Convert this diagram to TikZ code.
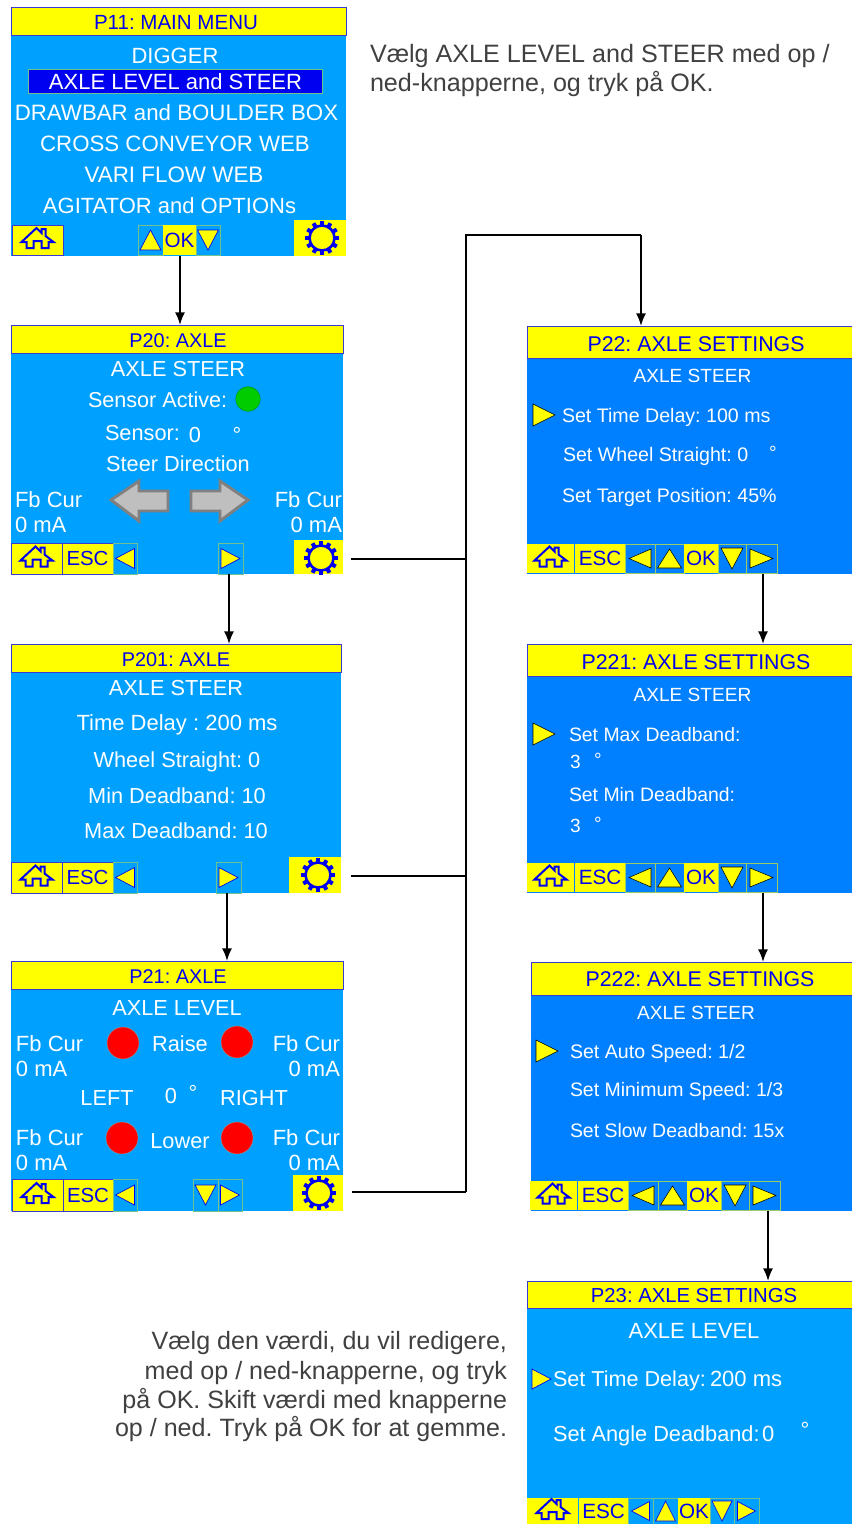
\documentclass[tikz,border=0pt]{standalone}
\usepackage{fontspec}
\setmainfont{Liberation Sans}
\usetikzlibrary{arrows.meta}
\frenchspacing
\newcounter{lbl}
\definecolor{pnl}{HTML}{00A0FF}
\definecolor{pnlb}{HTML}{0080FF}
\definecolor{ylw}{HTML}{FFFF00}
\definecolor{ink}{HTML}{0000F0}
\definecolor{frm}{HTML}{3A3AD0}
\definecolor{grn}{HTML}{70C090}
\definecolor{txtg}{HTML}{404040}
\tikzset{
  fs/.style={font=\fontsize{#1}{#1}\selectfont},
  rawbox/.style={rectangle,inner sep=0pt,outer sep=0pt},
  panel/.style={fill=pnl},
  panelb/.style={fill=pnlb},
  titlebar/.style={fill=ylw,draw=frm,line width=.6pt},
  yb/.style={fill=ylw,draw=frm,line width=.6pt},
  yp/.style={fill=ylw},
  gearb/.style={fill=ylw},
  tbox/.style={fill=pnl,draw=grn,line width=.5pt},
  tboxb/.style={fill=pnlb,draw=ylw!60!pnlb,line width=.35pt},
  tri/.style={fill=ylw,draw=ink,line width=.5pt},
  trib/.style={fill=ylw},
  homeic/.style={fill=ylw,draw=ink,line width=1.5pt,line join=miter},
  gearc/.style={fill=ylw,draw=ink,line width=1.9pt},
  gteeth/.style={draw=ink,line width=3pt},
  conn/.style={draw=black,line width=1.3pt,-{Latex[length=9.5pt,width=7.5pt]}},
  bus/.style={draw=black,line width=1.3pt},
  grayarrow/.style={fill=black!25,draw=black!50,line width=2.2pt,line join=miter},
  led/.style={circle,inner sep=0pt,outer sep=0pt},
  tl/.style={inner sep=0pt,outer sep=0pt,anchor=base},
  wl/.style={text=white},
  bl/.style={text=ink},
  gl/.style={text=txtg},
}
% name x1 y1 x2 y2 style
\newcommand\bx[6]{\node[rawbox,minimum width={(#4-#2)*0.75pt},minimum height={(#5-#3)*0.75pt},#6] (#1) at ({(#2+#4)/2},{(#3+#5)/2}) {};}
% anchor x y size style text
\newcommand\tx[6]{\stepcounter{lbl}\node[tl,anchor=#1,fs=#4,#5] (lbl\arabic{lbl}) at (#2,#3) {#6};}
\newcommand\homeic[2]{\draw[homeic,shift={(#1,#2)}] (-16,2)--(-1,-12)--(4,-7)--(4,-11)--(8,-11)--(8,-4)--(16,2)--(11,2)--(11,8)--(4,8)--(4,1)--(-4,1)--(-4,8)--(-11,8)--(-11,2)--cycle;}
% name x1 y1 x2 y2
\newcommand\homeb[5]{\bx{#1}{#2}{#3}{#4}{#5}{yb}\homeic{{(#2+#4)/2}}{{(#3+#5)/2}}}
\newcommand\homep[5]{\bx{#1}{#2}{#3}{#4}{#5}{yp}\homeic{{(#2+#4)/2}}{{(#3+#5)/2}}}
\newcommand\gearbtn[7]{\bx{#1}{#2}{#3}{#4}{#5}{gearb}
  \begin{scope}[shift={(#6,#7)}]
   \foreach \a in {0,30,...,330} {\draw[gteeth] (\a:11.5) -- (\a:17);}
   \draw[gearc] (0,0) circle[radius=12.5];
  \end{scope}}
% name x1 y1 x2 y2 rot a b
\newcommand\tribtn[8]{\bx{#1}{#2}{#3}{#4}{#5}{tbox}
  \draw[tri,shift={({(#2+#4)/2},{(#3+#5)/2})},rotate=#6] (-#7,-#8)--(#7,0)--(-#7,#8)--cycle;}
\newcommand\tribtnb[8]{\bx{#1}{#2}{#3}{#4}{#5}{tboxb}
  \draw[trib,shift={({(#2+#4)/2},{(#3+#5)/2})},rotate=#6] (-#7,-#8)--(#7,0)--(-#7,#8)--cycle;}
\newcommand\labelb[6]{\bx{#1}{#2}{#3}{#4}{#5}{yb}
  \stepcounter{lbl}\node[rawbox,fs=15.3,text=ink] (lbl\arabic{lbl}) at ({(#2+#4)/2},{(#3+#5)/2}) {#6};}
\newcommand\labelp[6]{\bx{#1}{#2}{#3}{#4}{#5}{yp}
  \stepcounter{lbl}\node[rawbox,fs=15.5,text=ink] (lbl\arabic{lbl}) at ({(#2+#4)/2},{(#3+#5)/2}) {#6};}
\newcommand\dgr[3]{\tx{base}{#1}{#2}{#3}{wl}{°}}
\begin{document}
\begin{tikzpicture}[x=.75pt,y=-.75pt]
\useasboundingbox (0,0) rectangle (852,1524);
% ---------- P11
\bx{s11}{11}{7}{346}{256}{panel}
\bx{t11}{11}{7}{346}{35}{titlebar}
\tx{base}{176}{29}{15.4}{bl}{P11: MAIN MENU}
\tx{base}{175}{63}{16.5}{wl}{DIGGER}
\bx{hl11}{28}{69}{322}{93}{fill=ink,draw=grn,line width=.6pt}
\tx{base}{175.5}{89}{16.5}{wl}{AXLE LEVEL and STEER}
\tx{base}{176.5}{120}{16.7}{wl}{DRAWBAR and BOULDER BOX}
\tx{base}{175}{151}{16.7}{wl}{CROSS CONVEYOR WEB}
\tx{base}{174}{182}{16.8}{wl}{VARI FLOW WEB}
\tx{base}{169.5}{213}{16.5}{wl}{AGITATOR and OPTIONs}
\homeb{h11}{12}{225}{63}{255}
\tribtn{u11}{138}{225}{163}{255}{90}{10}{10.5}
\labelp{ok11}{163}{225}{196}{255}{OK}
\tribtn{d11}{196}{225}{220}{255}{-90}{10}{10.5}
\gearbtn{g11}{294}{220}{346}{256}{322}{238}
% ---------- P20
\bx{s20}{11}{325}{343}{574}{panel}
\bx{t20}{11}{325}{343}{353}{titlebar}
\tx{base}{178}{347}{14.9}{bl}{P20: AXLE}
\tx{base}{178}{376}{16.3}{wl}{AXLE STEER}
\tx{base west}{88}{407}{16.2}{wl}{Sensor Active:}
\node[led,fill=green!80!black,draw=green!55!black,line width=.3pt,minimum size=18.5pt] (led20) at (248,399) {};
\tx{base west}{105}{440}{16.3}{wl}{Sensor:}
\tx{base}{195}{442}{16.3}{wl}{0}
\dgr{237}{442}{16.3}
\tx{base}{178}{471}{16.3}{wl}{Steer Direction}
\tx{base west}{15}{507}{16.5}{wl}{Fb Cur}
\tx{base west}{15}{532}{16.5}{wl}{0 mA}
\tx{base east}{342}{507}{16.5}{wl}{Fb Cur}
\tx{base east}{342}{532}{16.5}{wl}{0 mA}
\draw[grayarrow] (111,500)--(139,481)--(139,491)--(168,491)--(168,511)--(139,511)--(139,521)--cycle;
\draw[grayarrow] (248,500)--(220,481)--(220,491)--(191,491)--(191,511)--(220,511)--(220,521)--cycle;
\homeb{h20}{11}{543}{62}{574}
\labelb{e20}{62}{543}{113}{574}{ESC}
\tribtn{l20}{113}{543}{137}{574}{180}{9.5}{10}
\tribtn{r20}{218}{543}{243}{574}{0}{9.5}{10}
\gearbtn{g20}{294}{540}{343}{574}{321}{558}
% ---------- P201
\bx{s201}{11}{644}{341}{893}{panel}
\bx{t201}{11}{644}{341}{672}{titlebar}
\tx{base}{176}{666}{14.9}{bl}{P201: AXLE}
\tx{base}{176}{695}{16.3}{wl}{AXLE STEER}
\tx{base}{177}{730}{16.5}{wl}{Time Delay : 200 ms}
\tx{base}{177}{767}{16.3}{wl}{Wheel Straight: 0}
\tx{base}{177}{803}{16.3}{wl}{Min Deadband: 10}
\tx{base}{176}{838}{16.3}{wl}{Max Deadband: 10}
\homeb{h201}{11}{862}{62}{893}
\labelb{e201}{62}{862}{113}{893}{ESC}
\tribtn{l201}{113}{862}{137}{893}{180}{9.5}{10}
\tribtn{r201}{216}{862}{241}{893}{0}{9.5}{10}
\gearbtn{g201}{289}{857}{341}{893}{318}{875}
% ---------- P21
\bx{s21}{11}{961}{343}{1211}{panel}
\bx{t21}{11}{961}{343}{989}{titlebar}
\tx{base}{178}{983}{14.9}{bl}{P21: AXLE}
\tx{base}{177}{1015}{16.3}{wl}{AXLE LEVEL}
\tx{base west}{16}{1051}{16.5}{wl}{Fb Cur}
\tx{base west}{16}{1076}{16.5}{wl}{0 mA}
\tx{base east}{340}{1051}{16.5}{wl}{Fb Cur}
\tx{base east}{340}{1076}{16.5}{wl}{0 mA}
\node[led,fill=red,draw=black!40,line width=.3pt,minimum size=24pt] (la) at (123,1043) {};
\node[led,fill=red,draw=black!40,line width=.3pt,minimum size=24pt] (lb) at (237,1042) {};
\tx{base}{180}{1051}{16.3}{wl}{Raise}
\tx{base}{107}{1105}{16.3}{wl}{LEFT}
\tx{base}{171}{1103}{16.3}{wl}{0}
\dgr{193}{1100}{16.3}
\tx{base}{254}{1105}{16.3}{wl}{RIGHT}
\tx{base west}{16}{1145}{16.5}{wl}{Fb Cur}
\tx{base west}{16}{1170}{16.5}{wl}{0 mA}
\tx{base east}{340}{1145}{16.5}{wl}{Fb Cur}
\tx{base east}{340}{1170}{16.5}{wl}{0 mA}
\node[led,fill=red,draw=black!40,line width=.3pt,minimum size=24pt] (lc) at (122,1138) {};
\node[led,fill=red,draw=black!40,line width=.3pt,minimum size=24pt] (ld) at (237,1138) {};
\tx{base}{180}{1148}{16.3}{wl}{Lower}
\homeb{h21}{12}{1179}{63}{1211}
\labelb{e21}{63}{1179}{113}{1211}{ESC}
\tribtn{l21}{113}{1179}{137}{1211}{180}{9.5}{10}
\tribtn{d21}{193}{1179}{218}{1211}{-90}{10}{10.5}
\tribtn{r21}{218}{1179}{242}{1211}{0}{9.5}{10}
\gearbtn{g21}{293}{1175}{343}{1211}{319}{1193}
% ---------- P22
\bx{s22}{527}{326}{852}{574}{panelb}
\bx{t22}{527}{326}{852}{358}{titlebar}
\tx{base}{696}{351}{16}{bl}{P22: AXLE SETTINGS}
\tx{base}{692.5}{382}{14.3}{wl}{AXLE STEER}
\draw[trib] (533,404)--(555,415)--(533,426)--cycle;
\tx{base west}{562}{422}{14.7}{wl}{Set Time Delay: 100 ms}
\tx{base west}{563}{461}{14.7}{wl}{Set Wheel Straight: 0}
\dgr{773}{459}{14.3}
\tx{base west}{562}{502}{14.7}{wl}{Set Target Position: 45\%}
\homep{h22}{527}{544}{574}{573}
\labelp{e22}{575}{544}{625}{573}{ESC}
\tribtnb{l22}{625}{544}{655}{573}{180}{11}{9.5}
\tribtnb{u22}{655}{544}{684}{573}{90}{9.5}{12}
\labelp{ok22}{684}{544}{718}{573}{OK}
\tribtnb{d22}{718}{544}{746}{573}{-90}{10.5}{11}
\tribtnb{r22}{746}{544}{777}{573}{0}{11.5}{9.5}
% ---------- P221
\bx{s221}{527}{644}{852}{893}{panelb}
\bx{t221}{527}{644}{852}{676}{titlebar}
\tx{base}{696}{669}{16}{bl}{P221: AXLE SETTINGS}
\tx{base}{692.5}{701}{14.3}{wl}{AXLE STEER}
\draw[trib] (533,723)--(555,734)--(533,745)--cycle;
\tx{base west}{569}{741}{14.55}{wl}{Set Max Deadband:}
\tx{base west}{570}{768}{14.3}{wl}{3}
\dgr{598}{766}{14.3}
\tx{base west}{569}{801}{14.55}{wl}{Set Min Deadband:}
\tx{base west}{570}{832}{14.3}{wl}{3}
\dgr{598}{830}{14.3}
\homep{h221}{527}{863}{574}{892}
\labelp{e221}{575}{863}{625}{892}{ESC}
\tribtnb{l221}{625}{863}{655}{892}{180}{11}{9.5}
\tribtnb{u221}{655}{863}{684}{892}{90}{9.5}{12}
\labelp{ok221}{684}{863}{718}{892}{OK}
\tribtnb{d221}{718}{863}{746}{892}{-90}{10.5}{11}
\tribtnb{r221}{746}{863}{777}{892}{0}{11.5}{9.5}
% ---------- P222
\bx{s222}{531}{962}{852}{1211}{panelb}
\bx{t222}{531}{962}{852}{995}{titlebar}
\tx{base}{700}{986}{16}{bl}{P222: AXLE SETTINGS}
\tx{base}{696}{1019}{14.3}{wl}{AXLE STEER}
\draw[trib] (536,1040)--(558,1051)--(536,1062)--cycle;
\tx{base west}{570}{1058}{14.7}{wl}{Set Auto Speed: 1/2}
\tx{base west}{570}{1096}{14.6}{wl}{Set Minimum Speed: 1/3}
\tx{base west}{570}{1137}{14.6}{wl}{Set Slow Deadband: 15x}
\homep{h222}{530}{1181}{577}{1210}
\labelp{e222}{578}{1181}{628}{1210}{ESC}
\tribtnb{l222}{628}{1181}{658}{1210}{180}{11}{9.5}
\tribtnb{u222}{658}{1181}{687}{1210}{90}{9.5}{12}
\labelp{ok222}{687}{1181}{721}{1210}{OK}
\tribtnb{d222}{721}{1181}{749}{1210}{-90}{10.5}{11}
\tribtnb{r222}{749}{1181}{780}{1210}{0}{11.5}{9.5}
% ---------- P23
\bx{s23}{527}{1281}{852}{1524}{panel}
\bx{t23}{527}{1281}{852}{1308}{titlebar}
\tx{base}{694}{1302}{15.2}{bl}{P23: AXLE SETTINGS}
\tx{base}{694}{1338}{16.5}{wl}{AXLE LEVEL}
\draw[tri] (532,1369)--(551,1379)--(532,1389)--cycle;
\tx{base west}{553}{1386}{16.2}{wl}{Set Time Delay:}
\tx{base west}{710}{1386}{16.5}{wl}{200 ms}
\tx{base west}{553}{1441}{16.3}{wl}{Set Angle Deadband:}
\tx{base west}{762}{1441}{16.5}{wl}{0}
\dgr{805}{1437}{16.5}
\homep{h23}{527}{1498}{578}{1524}
\labelp{e23}{579}{1498}{628}{1524}{ESC}
\tribtn{l23}{628}{1498}{653}{1524}{180}{9}{9.5}
\tribtn{u23}{653}{1498}{678}{1524}{90}{10}{10}
\labelp{ok23}{678}{1498}{710}{1524}{OK}
\tribtn{d23}{710}{1498}{734}{1524}{-90}{10}{10}
\tribtn{r23}{734}{1498}{759}{1524}{0}{9}{9.5}
% ---------- notes
\tx{base west}{370}{62}{18.85}{gl}{Vælg AXLE LEVEL and STEER med op /}
\tx{base west}{370}{91}{18.85}{gl}{ned-knapperne, og tryk på OK.}
\tx{base east}{507}{1349}{18.8}{gl}{Vælg den værdi, du vil redigere,}
\tx{base east}{507}{1379}{18.8}{gl}{med op / ned-knapperne, og tryk}
\tx{base east}{507}{1408}{18.8}{gl}{på OK. Skift værdi med knapperne}
\tx{base east}{507}{1436}{18.8}{gl}{op / ned. Tryk på OK for at gemme.}
% ---------- connectors
\coordinate (busT) at (466,235);
\coordinate (busB) at (466,1192);
\coordinate (a1) at (180,256);
\coordinate (a2) at (229,574);
\coordinate (a3) at (227,893);
\coordinate (a4) at (763,574);
\coordinate (a5) at (763,893);
\coordinate (a6) at (768,1211);
\coordinate (a7) at (641,235);
\coordinate (c20) at ([shift={(8,2)}]g20.east);
\coordinate (c201) at ([shift={(10,1)}]g201.east);
\coordinate (c21) at ([shift={(9,-1)}]g21.east);
\draw[conn] (a1) -- (a1 |- s20.north);
\draw[conn] (a2) -- (a2 |- s201.north);
\draw[conn] (a3) -- (a3 |- s21.north);
\draw[conn] (a4) -- (a4 |- s221.north);
\draw[conn] (a5) -- (a5 |- s222.north);
\draw[conn] (a6) -- (a6 |- s23.north);
\draw[bus] (busB) -- (busT) -- (a7);
\draw[conn] (a7) -- (a7 |- s22.north);
\draw[bus] (c20) -- (c20 -| busT);
\draw[bus] (c201) -- (c201 -| busT);
\draw[bus] (c21) -- (c21 -| busT);
\end{tikzpicture}
\end{document}
